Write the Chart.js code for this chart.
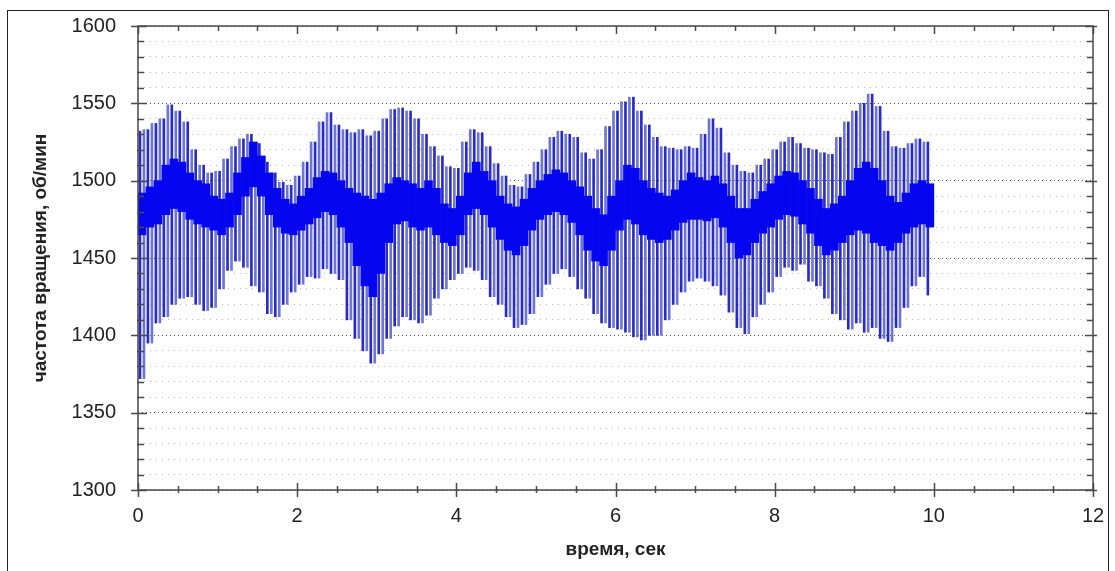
<!DOCTYPE html>
<html>
<head>
<meta charset="utf-8">
<script src="https://cdn.jsdelivr.net/npm/chart.js@4.4.1/dist/chart.umd.min.js"></script>
<style>
  html, body { margin: 0; padding: 0; background: #fff; }
  #wrap { position: absolute; left: 0; top: 0; width: 1115px; height: 571px; }
  #frame { position: absolute; left: 7px; top: 10px; width: 1100px; height: 580px; border: 1px solid #222; pointer-events: none; }
</style>
</head>
<body>
<div id="wrap">
  <canvas id="rpm" width="1115" height="571"></canvas>
  <div id="frame"></div>
</div>
<script>
// время отсчёта, шаг 0.1 с: верхняя и нижняя огибающая колебаний
const dt = 0.1;
const upper = [
  1532, 1533, 1537, 1540, 1549, 1545, 1538, 1520, 1510, 1505,
  1506, 1514, 1522, 1527, 1530, 1524, 1512, 1505, 1499, 1497,
  1503, 1512, 1525, 1538, 1544, 1536, 1533, 1531, 1533, 1529,
  1532, 1540, 1546, 1547, 1545, 1540, 1530, 1522, 1516, 1509,
  1508, 1525, 1533, 1531, 1522, 1511, 1503, 1497, 1496, 1504,
  1512, 1520, 1528, 1532, 1530, 1528, 1518, 1514, 1520, 1535,
  1545, 1551, 1554, 1545, 1536, 1528, 1522, 1521, 1520, 1522,
  1521, 1530, 1540, 1534, 1518, 1510, 1506, 1505, 1510, 1514,
  1520, 1525, 1528, 1524, 1521, 1520, 1518, 1517, 1528, 1538,
  1545, 1550, 1556, 1548, 1532, 1522, 1521, 1524, 1527, 1525
];
const lower = [
  1372, 1395, 1408, 1412, 1420, 1424, 1425, 1420, 1416, 1418,
  1430, 1442, 1448, 1444, 1432, 1428, 1414, 1412, 1420, 1428,
  1433, 1438, 1437, 1443, 1440, 1436, 1410, 1398, 1390, 1382,
  1388, 1398, 1406, 1412, 1410, 1408, 1413, 1424, 1430, 1436,
  1440, 1444, 1442, 1436, 1425, 1420, 1412, 1405, 1407, 1414,
  1425, 1433, 1440, 1443, 1438, 1430, 1424, 1414, 1408, 1405,
  1404, 1402, 1399, 1397, 1400, 1400, 1410, 1420, 1428, 1435,
  1437, 1435, 1432, 1426, 1415, 1405, 1401, 1412, 1420, 1428,
  1438, 1444, 1442, 1446, 1435, 1432, 1424, 1414, 1410, 1404,
  1408, 1402, 1405, 1398, 1396, 1405, 1418, 1432, 1438, 1426
];
// плотная средняя полоса
const coreHi = [
  1492, 1496, 1500, 1510, 1514, 1512, 1505, 1500, 1498, 1490,
  1488, 1492, 1505, 1515, 1525, 1516, 1505, 1495, 1488, 1485,
  1490, 1495, 1502, 1506, 1505, 1500, 1495, 1492, 1490, 1488,
  1492, 1498, 1502, 1500, 1498, 1495, 1500, 1495, 1485, 1482,
  1490, 1505, 1512, 1506, 1500, 1490, 1485, 1483, 1488, 1495,
  1500, 1504, 1507, 1505, 1500, 1496, 1490, 1482, 1478, 1490,
  1500, 1510, 1508, 1500, 1495, 1492, 1490, 1494, 1500, 1505,
  1502, 1500, 1503, 1498, 1490, 1482, 1482, 1488, 1493, 1498,
  1503, 1506, 1505, 1500, 1495, 1488, 1482, 1485, 1490, 1500,
  1508, 1512, 1508, 1500, 1490, 1486, 1492, 1498, 1500, 1498
];
const coreLo = [
  1465, 1470, 1472, 1478, 1482, 1480, 1475, 1472, 1470, 1468,
  1465, 1470, 1478, 1490, 1496, 1490, 1478, 1470, 1466, 1465,
  1468, 1472, 1476, 1480, 1478, 1470, 1460, 1445, 1432, 1425,
  1440, 1460, 1472, 1474, 1470, 1468, 1470, 1465, 1460, 1458,
  1465, 1478, 1482, 1478, 1470, 1462, 1455, 1452, 1458, 1468,
  1475, 1478, 1480, 1478, 1473, 1465, 1455, 1448, 1445, 1455,
  1468, 1475, 1472, 1465, 1462, 1460, 1462, 1468, 1473, 1475,
  1475, 1474, 1476, 1470, 1460, 1450, 1452, 1460, 1466, 1470,
  1475, 1478, 1477, 1472, 1466, 1458, 1452, 1455, 1460, 1465,
  1468, 1466, 1460, 1458, 1455, 1460, 1466, 1470, 1472, 1470
];
const yMin = 1300, yMax = 1600;
const xMin = 0, xMax = 12;

// пилообразный сигнал: верх в начале отсчёта, низ через полшага
const swing = [];
upper.forEach((v, i) => {
  swing.push({x: i * dt, y: v});
  swing.push({x: i * dt + dt / 2, y: lower[i]});
});
// каждый перепад рисуется вертикальным штрихом
const strokes = [];
for (let k = 0; k + 1 < swing.length; k++) {
  const a = swing[k], b = swing[k + 1];
  strokes.push({x: (a.x + b.x) / 2, y: [Math.min(a.y, b.y), Math.max(a.y, b.y)]});
}
const band = coreHi.map((v, i) => ({x: i * dt + dt / 2, y: [coreLo[i], v]}));

const FONT = '"Liberation Sans", Arial, sans-serif';
const NONE = 'rgba(0,0,0,0)';

// рамка поля графика и засечки на всех четырёх сторонах
const frameTicks = {
  id: 'frameTicks',
  afterDatasetsDraw(chart) {
    const {ctx, chartArea: a, scales} = chart;
    ctx.save();
    ctx.strokeStyle = '#4a4a4a';
    ctx.lineWidth = 1.5;
    ctx.strokeRect(a.left, a.top, a.right - a.left, a.bottom - a.top);
    ctx.beginPath();
    for (let v = yMin; v <= yMax; v += 10) {
      const y = Math.round(scales.y.getPixelForValue(v)) + 0.5;
      const major = v % 50 === 0;
      ctx.moveTo(a.left - (major ? 7 : 1), y);
      ctx.lineTo(a.left + (major ? 9 : 6), y);
      ctx.moveTo(a.right - (major ? 8 : 6), y);
      ctx.lineTo(a.right + (major ? 4 : 0), y);
    }
    for (let v = xMin; v <= xMax; v += 0.5) {
      const x = Math.round(scales.x.getPixelForValue(v)) + 0.5;
      const major = v % 2 === 0;
      ctx.moveTo(x, a.bottom - (major ? 7 : 4));
      ctx.lineTo(x, a.bottom + (major ? 7 : 3));
      ctx.moveTo(x, a.top);
      ctx.lineTo(x, a.top + (major ? 8 : 5));
    }
    ctx.stroke();
    ctx.restore();
  }
};

new Chart(document.getElementById('rpm'), {
  type: 'line',
  data: {
    datasets: [
      {
        type: 'bar',
        label: 'core',
        data: band,
        order: 0,
        backgroundColor: '#0505f0',
        borderWidth: 0,
        barThickness: 8,
        grouped: false
      },
      {
        type: 'bar',
        label: 'частота',
        data: strokes,
        order: 1,
        backgroundColor: c => c.dataIndex % 2 ? '#6d76d2' : '#2a2acc',
        borderWidth: 0,
        barThickness: 2,
        grouped: false
      }
    ]
  },
  options: {
    responsive: false,
    animation: false,
    layout: { padding: { left: 0, top: 26, right: 22, bottom: 0 } },
    plugins: { legend: { display: false }, tooltip: { enabled: false } },
    scales: {
      x: {
        type: 'linear',
        min: xMin, max: xMax,
        offset: false,
        afterFit: s => { s.height = 81; },
        ticks: { stepSize: 2, padding: 0, color: '#222', font: { family: FONT, size: 20 } },
        grid: { drawOnChartArea: false, drawTicks: true, tickLength: 14, tickColor: NONE },
        border: { display: false },
        title: {
          display: true,
          text: 'время, сек',
          color: '#222',
          font: { family: FONT, size: 19, weight: 'bold' },
          padding: { top: 4, bottom: 10 }
        }
      },
      y: {
        min: yMin, max: yMax,
        afterFit: s => { s.width = 138; },
        ticks: {
          stepSize: 50, padding: 0, color: '#222',
          font: { family: FONT, size: 20 },
          callback: v => String(v)
        },
        grid: { color: '#555', lineWidth: 1, drawTicks: true, tickLength: 22, tickColor: NONE },
        border: { display: false, dash: [1, 3] },
        title: {
          display: true,
          text: 'частота вращения, об/мин',
          color: '#222',
          font: { family: FONT, size: 19, weight: 'bold' },
          padding: { top: 29, bottom: 0 }
        }
      },
      y2: {
        position: 'left',
        min: yMin, max: yMax,
        afterFit: s => { s.width = 0; },
        ticks: { stepSize: 10, display: false },
        grid: {
          drawTicks: false,
          lineWidth: 1,
          color: c => c.tick.value % 50 === 0 ? NONE : '#b8b8b8'
        },
        border: { display: false, dash: [1, 5] }
      }
    }
  },
  plugins: [frameTicks]
});
</script>
</body>
</html>
